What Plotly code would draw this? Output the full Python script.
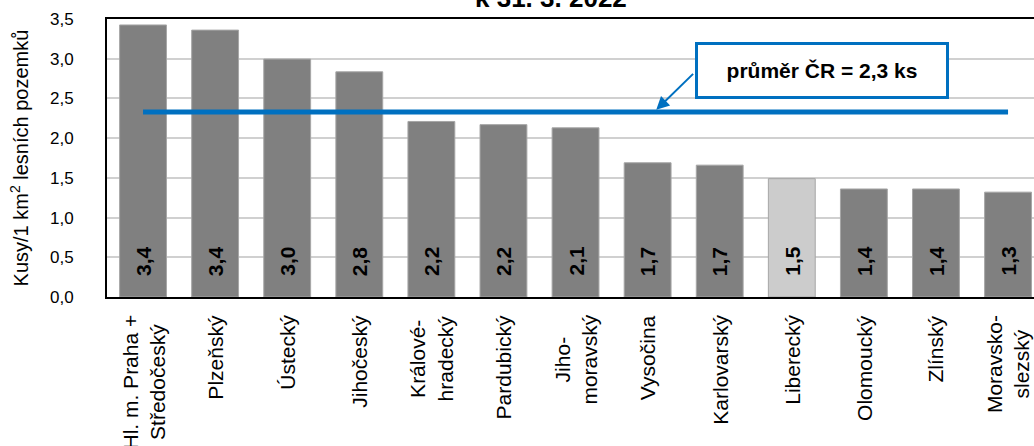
import plotly.graph_objects as go

categories = ["Hl. m. Praha +<br>Středočeský", "Plzeňský", "Ústecký", "Jihočeský",
              "Králové-<br>hradecký", "Pardubický", "Jiho-<br>moravský", "Vysočina",
              "Karlovarský", "Liberecký", "Olomoucký", "Zlínský", "Moravsko-<br>slezský"]
values = [3.425, 3.36, 2.995, 2.835, 2.21, 2.17, 2.13, 1.69, 1.66, 1.49, 1.36, 1.36, 1.32]
highlight = "Liberecký"
average = 2.33
avg_label = "průměr ČR = 2,3 ks"
title_text = "k 31. 3. 2022"
y_title = "Kusy/1 km<sup>2</sup> lesních pozemků"
y_ticks = [0, 0.5, 1.0, 1.5, 2.0, 2.5, 3.0, 3.5]
y_ticktext = [f"{v:.1f}".replace(".", ",") for v in y_ticks]

FONT = "Liberation Sans, Arial, sans-serif"
BLUE = "#0070C0"

colors = ["#CCCCCC" if c == highlight else "#808080" for c in categories]
labels = [f"{v:.1f}".replace(".", ",") for v in values]

fig = go.Figure()
fig.add_trace(go.Bar(
    x=categories, y=values, width=0.65,
    marker=dict(color=colors, line=dict(color="#A6A6A6", width=1)),
    hoverinfo="skip", showlegend=False,
))
fig.add_trace(go.Scatter(
    x=[categories[0], categories[-1]], y=[average, average],
    mode="lines", line=dict(color=BLUE, width=5),
    hoverinfo="skip", showlegend=False,
))

annotations = []
for c, lab in zip(categories, labels):
    # value label inside the bar
    annotations.append(dict(
        x=c, y=0, xref="x", yref="y", text=f"<b>{lab}</b>", showarrow=False,
        textangle=-90, yanchor="bottom", xanchor="center", yshift=19,
        font=dict(family=FONT, size=21, color="black"),
    ))
    # category label below the axis (centre-aligned lines, like the original)
    annotations.append(dict(
        x=c, y=0, xref="x", yref="y", text=c, showarrow=False,
        textangle=-90, yanchor="top", xanchor="center", yshift=-16,
        align="center", font=dict(family=FONT, size=21, color="black"),
    ))

# arrow from box to average line
annotations.append(dict(
    x=7.09, y=average, xref="x", yref="y", text=" ", showarrow=True,
    ax=42, ay=-41, arrowhead=2, arrowsize=1.3, arrowwidth=2, arrowcolor=BLUE,
    standoff=3, font=dict(size=10),
))
# label box
annotations.append(dict(
    x=9.42, y=2.85, xref="x", yref="y", text=f"<b>{avg_label}</b>", showarrow=False,
    font=dict(family=FONT, size=21, color="black"),
    bordercolor=BLUE, borderwidth=3, borderpad=2, bgcolor="white",
    width=244, height=47, xanchor="center", yanchor="middle",
))
# title (partially cut at the top)
annotations.append(dict(
    x=0.479, y=1, xref="paper", yref="paper", text=f"<b>{title_text}</b>",
    showarrow=False, xanchor="center", yanchor="bottom", yshift=4,
    font=dict(family=FONT, size=26, color="black"),
))

fig.update_layout(
    width=1034, height=446,
    margin=dict(l=107, r=0, t=19, b=149),
    paper_bgcolor="white", plot_bgcolor="white",
    font=dict(family=FONT, color="black"),
    annotations=annotations,
    bargap=0.35,
)
fig.update_xaxes(
    type="category", range=[-0.5, 12.36], automargin=False,
    showline=True, linecolor="black", linewidth=2, mirror=True,
    showticklabels=False, ticks="", showgrid=False,
)
fig.update_yaxes(
    range=[0, 3.5], tickvals=y_ticks, ticktext=y_ticktext, automargin=False,
    showline=True, linecolor="black", linewidth=2,
    showgrid=True, gridcolor="#D0D0D0", gridwidth=1.5,
    ticks="", ticklabelstandoff=28,
    tickfont=dict(family=FONT, size=17, color="black"),
    title=dict(text=y_title, font=dict(family=FONT, size=20, color="black"), standoff=16),
    zeroline=False,
)

fig.write_html(
    "out.html",
    config={"displayModeBar": False},
    post_script="document.body.style.margin='0';document.body.style.overflow='hidden';",
)
